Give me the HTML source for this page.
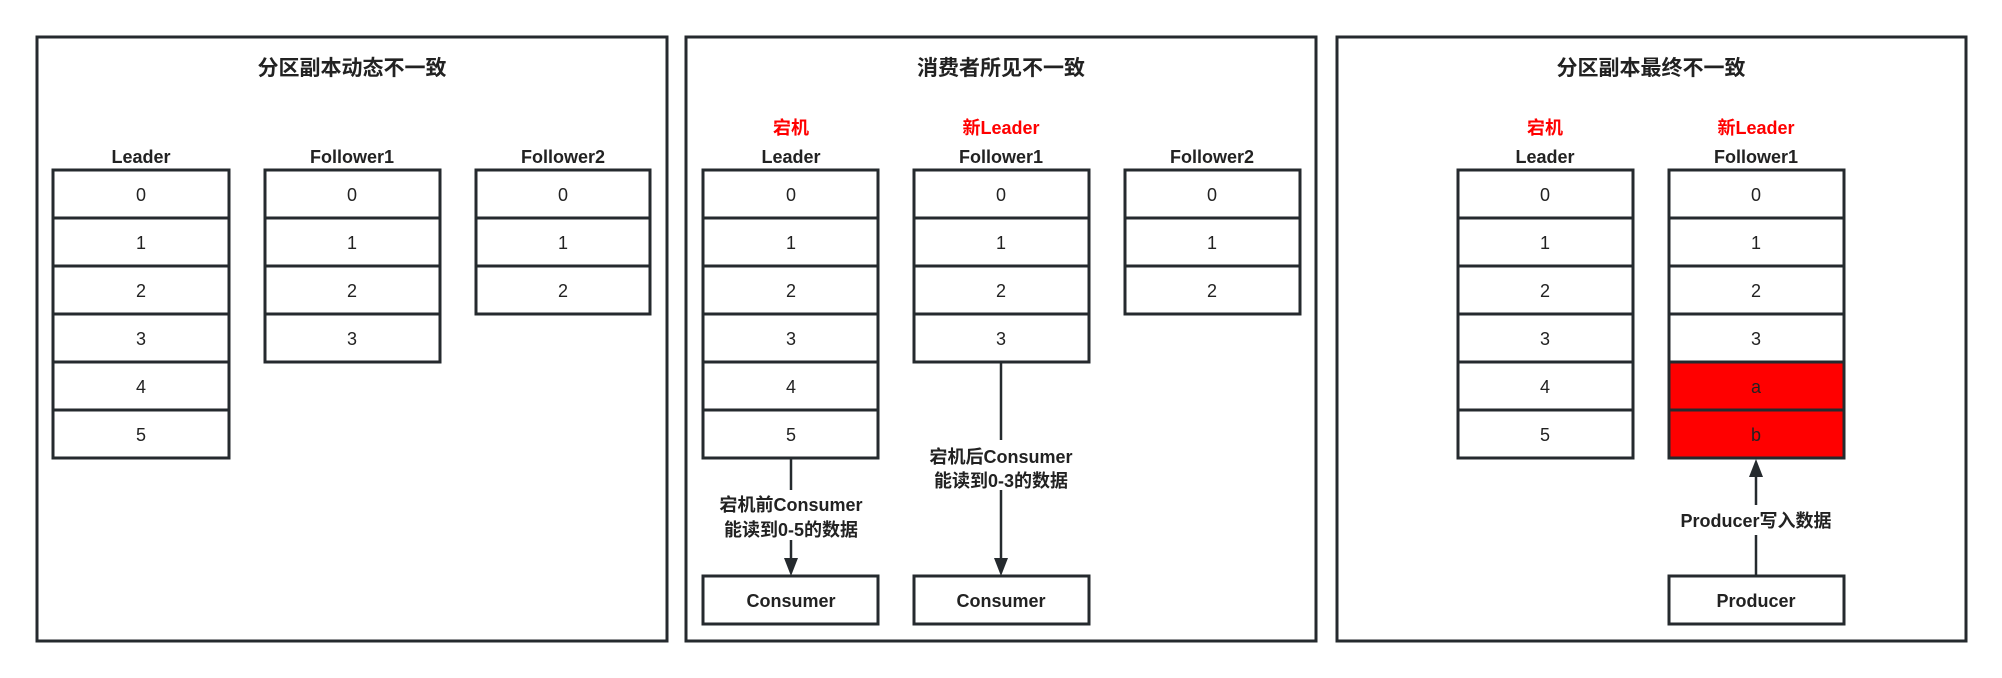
<!DOCTYPE html>
<html><head><meta charset="utf-8"><style>
html,body{margin:0;padding:0;background:#fff;}
svg{display:block;}
text{font-family:"Liberation Sans","Noto Sans CJK SC",sans-serif;fill:#222;}
.t{font-size:21px;font-weight:bold;}
.l{font-size:18px;font-weight:bold;}
.r{font-size:18px;font-weight:bold;fill:#f00;}
.n{font-size:18px;}
rect{stroke:#252a2e;stroke-width:3;}
</style></head><body>
<svg width="2002" height="678" viewBox="0 0 2002 678" xmlns="http://www.w3.org/2000/svg">
<g fill="#fff">
<rect x="37" y="37" width="630" height="604"/>
<rect x="686" y="37" width="630" height="604"/>
<rect x="1337" y="37" width="629" height="604"/>
</g>
<g text-anchor="middle">
<text class="t" x="352" y="75">分区副本动态不一致</text>
<text class="t" x="1001" y="75">消费者所见不一致</text>
<text class="t" x="1651" y="75">分区副本最终不一致</text>

<text class="l" x="141" y="163">Leader</text>
<text class="l" x="352" y="163">Follower1</text>
<text class="l" x="563" y="163">Follower2</text>

<text class="r" x="791" y="134">宕机</text>
<text class="r" x="1001" y="134">新Leader</text>
<text class="l" x="791" y="163">Leader</text>
<text class="l" x="1001" y="163">Follower1</text>
<text class="l" x="1212" y="163">Follower2</text>

<text class="r" x="1545" y="134">宕机</text>
<text class="r" x="1756" y="134">新Leader</text>
<text class="l" x="1545" y="163">Leader</text>
<text class="l" x="1756" y="163">Follower1</text>
</g>

<g fill="#fff">
<rect x="53" y="170" width="176" height="48"/><rect x="53" y="218" width="176" height="48"/><rect x="53" y="266" width="176" height="48"/><rect x="53" y="314" width="176" height="48"/><rect x="53" y="362" width="176" height="48"/><rect x="53" y="410" width="176" height="48"/>
<rect x="265" y="170" width="175" height="48"/><rect x="265" y="218" width="175" height="48"/><rect x="265" y="266" width="175" height="48"/><rect x="265" y="314" width="175" height="48"/>
<rect x="476" y="170" width="174" height="48"/><rect x="476" y="218" width="174" height="48"/><rect x="476" y="266" width="174" height="48"/>
<rect x="703" y="170" width="175" height="48"/><rect x="703" y="218" width="175" height="48"/><rect x="703" y="266" width="175" height="48"/><rect x="703" y="314" width="175" height="48"/><rect x="703" y="362" width="175" height="48"/><rect x="703" y="410" width="175" height="48"/>
<rect x="914" y="170" width="175" height="48"/><rect x="914" y="218" width="175" height="48"/><rect x="914" y="266" width="175" height="48"/><rect x="914" y="314" width="175" height="48"/>
<rect x="1125" y="170" width="175" height="48"/><rect x="1125" y="218" width="175" height="48"/><rect x="1125" y="266" width="175" height="48"/>
<rect x="703" y="576" width="175" height="48"/><rect x="914" y="576" width="175" height="48"/>
<rect x="1458" y="170" width="175" height="48"/><rect x="1458" y="218" width="175" height="48"/><rect x="1458" y="266" width="175" height="48"/><rect x="1458" y="314" width="175" height="48"/><rect x="1458" y="362" width="175" height="48"/><rect x="1458" y="410" width="175" height="48"/>
<rect x="1669" y="170" width="175" height="48"/><rect x="1669" y="218" width="175" height="48"/><rect x="1669" y="266" width="175" height="48"/><rect x="1669" y="314" width="175" height="48"/>
<rect x="1669" y="362" width="175" height="48" fill="#f00"/><rect x="1669" y="410" width="175" height="48" fill="#f00"/>
<rect x="1669" y="576" width="175" height="48"/>
</g>

<g text-anchor="middle">
<text class="n" x="141" y="201">0</text><text class="n" x="141" y="249">1</text><text class="n" x="141" y="297">2</text><text class="n" x="141" y="345">3</text><text class="n" x="141" y="393">4</text><text class="n" x="141" y="441">5</text>
<text class="n" x="352" y="201">0</text><text class="n" x="352" y="249">1</text><text class="n" x="352" y="297">2</text><text class="n" x="352" y="345">3</text>
<text class="n" x="563" y="201">0</text><text class="n" x="563" y="249">1</text><text class="n" x="563" y="297">2</text>
<text class="n" x="791" y="201">0</text><text class="n" x="791" y="249">1</text><text class="n" x="791" y="297">2</text><text class="n" x="791" y="345">3</text><text class="n" x="791" y="393">4</text><text class="n" x="791" y="441">5</text>
<text class="n" x="1001" y="201">0</text><text class="n" x="1001" y="249">1</text><text class="n" x="1001" y="297">2</text><text class="n" x="1001" y="345">3</text>
<text class="n" x="1212" y="201">0</text><text class="n" x="1212" y="249">1</text><text class="n" x="1212" y="297">2</text>
<text class="n" x="1545" y="201">0</text><text class="n" x="1545" y="249">1</text><text class="n" x="1545" y="297">2</text><text class="n" x="1545" y="345">3</text><text class="n" x="1545" y="393">4</text><text class="n" x="1545" y="441">5</text>
<text class="n" x="1756" y="201">0</text><text class="n" x="1756" y="249">1</text><text class="n" x="1756" y="297">2</text><text class="n" x="1756" y="345">3</text><text class="n" x="1756" y="393">a</text><text class="n" x="1756" y="441">b</text>
<text class="l" x="791" y="607">Consumer</text>
<text class="l" x="1001" y="607">Consumer</text>
<text class="l" x="1756" y="607">Producer</text>
</g>

<g stroke="#252a2e" stroke-width="2.5" fill="none">
<line x1="791" y1="459" x2="791" y2="490"/><line x1="791" y1="540" x2="791" y2="560"/>
<line x1="1001" y1="362" x2="1001" y2="440"/><line x1="1001" y1="490" x2="1001" y2="560"/>
<line x1="1756" y1="575" x2="1756" y2="535"/><line x1="1756" y1="505" x2="1756" y2="475"/>
</g>
<g fill="#252a2e">
<path d="M784,558 L798,558 L791,576 Z"/>
<path d="M994,558 L1008,558 L1001,576 Z"/>
<path d="M1749,477 L1763,477 L1756,459 Z"/>
</g>
<g text-anchor="middle">
<text class="l" x="791" y="511">宕机前Consumer</text>
<text class="l" x="791" y="536">能读到0-5的数据</text>
<text class="l" x="1001" y="463">宕机后Consumer</text>
<text class="l" x="1001" y="487">能读到0-3的数据</text>
<text class="l" x="1756" y="527">Producer写入数据</text>
</g>
</svg>
</body></html>
